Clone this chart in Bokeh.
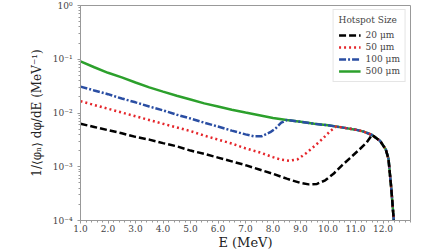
from bokeh.plotting import figure
from bokeh.models import (FixedTicker, CustomJSTickFormatter, PrintfTickFormatter,
                          Legend, LegendItem)
from bokeh.embed import file_html
from bokeh.resources import INLINE

# ---- data ----
tail_E = [8.5, 9.0, 9.5, 10.0, 10.5, 11.0, 11.3, 11.6, 11.9, 12.1, 12.2, 12.3, 12.38, 12.44]
tail_y = [0.0074, 0.0069, 0.0063, 0.0059, 0.0054, 0.0049, 0.0045, 0.0039, 0.0030, 0.0021,
          0.0014, 0.0004, 0.00012, 0.00004]

E_500 = [1.0, 1.5, 2.0, 2.5, 3.0, 3.5, 4.0, 4.5, 5.0, 5.5, 6.0, 6.5, 7.0, 7.5, 8.0]
y_500 = [0.091, 0.071, 0.056, 0.046, 0.037, 0.030, 0.025, 0.021, 0.0178, 0.0151, 0.0132,
         0.0115, 0.0102, 0.0091, 0.0081]

E_100 = [1.0, 1.5, 2.0, 2.5, 3.0, 3.5, 4.0, 4.5, 5.0, 5.5, 6.0, 6.5, 7.0, 7.3, 7.6, 7.9, 8.1, 8.3]
y_100 = [0.031, 0.0263, 0.0224, 0.0186, 0.0158, 0.0132, 0.0112, 0.0093, 0.0079, 0.0066,
         0.0056, 0.0047, 0.0040, 0.0037, 0.0037, 0.0044, 0.0052, 0.0066]

E_50 = [1.0, 1.5, 2.0, 2.5, 3.0, 3.5, 4.0, 4.5, 5.0, 5.5, 6.0, 6.5, 7.0, 7.5, 8.0, 8.3,
        8.6, 8.9, 9.2, 9.5, 9.8, 10.1, 10.3]
y_50 = [0.0166, 0.0141, 0.0120, 0.0102, 0.0087, 0.0074, 0.0063, 0.0054, 0.0046, 0.0038,
        0.0032, 0.0027, 0.0022, 0.00186, 0.00151, 0.00135, 0.00129, 0.00138, 0.00178,
        0.0024, 0.0033, 0.0047, 0.0056]

E_20 = [1.0, 1.5, 2.0, 2.5, 3.0, 3.5, 4.0, 4.5, 5.0, 5.5, 6.0, 6.5, 7.0, 7.5, 8.0, 8.5,
        9.0, 9.3, 9.6, 9.9, 10.2, 10.5, 10.8, 11.1, 11.4]
y_20 = [0.0063, 0.0055, 0.0048, 0.0042, 0.0036, 0.0032, 0.00275, 0.0024, 0.0020, 0.00174,
        0.00148, 0.00126, 0.00107, 0.00089, 0.00074, 0.0006, 0.0005, 0.00047, 0.00048,
        0.00056, 0.00074, 0.00105, 0.00145, 0.0020, 0.0028]

labels = ["20 \u03bcm", "50 \u03bcm", "100 \u03bcm", "500 \u03bcm"]
x_ticks = [1, 2, 3, 4, 5, 6, 7, 8, 9, 10, 11, 12]
y_ticks = [1e-4, 1e-3, 1e-2, 1e-1, 1.0]


def with_tail(E, y, start):
    tE = [e for e in tail_E if e > start]
    ty = [v for e, v in zip(tail_E, tail_y) if e > start]
    return E + tE, y + ty


FONT = "DejaVu Serif"

p = figure(width=448, height=252, x_range=(1, 13), y_range=(1e-4, 1),
           y_axis_type="log", output_backend="svg", toolbar_location=None,
           min_border_left=80, min_border_right=38, min_border_top=5, min_border_bottom=20)

p.xgrid.visible = False
p.ygrid.visible = False
p.outline_line_color = "#999999"
p.background_fill_color = "white"

gx, gy = with_tail(E_500, y_500, E_500[-1])
r500 = p.line(gx, gy, line_color="#2ca02c", line_width=2.5)
bx, by = with_tail(E_100, y_100, E_100[-1])
r100 = p.line(bx, by, line_color="#2a4ea3", line_width=2.5, line_dash="7 2 2 2")
rx, ry = with_tail(E_50, y_50, E_50[-1])
r50 = p.line(rx, ry, line_color="#e5262b", line_width=2.5, line_dash="2 3")
kx, ky = with_tail(E_20, y_20, 11.5)
r20 = p.line(kx, ky, line_color="black", line_width=2.5, line_dash="7 3")

# axes
p.xaxis.ticker = FixedTicker(ticks=x_ticks,
                             minor_ticks=[1 + 0.2 * i for i in range(61)])
p.xaxis.formatter = PrintfTickFormatter(format="%.1f")
minor_y = [m * 10 ** d for d in range(-4, 0) for m in range(2, 10)]
p.yaxis.ticker = FixedTicker(ticks=y_ticks, minor_ticks=minor_y)
p.yaxis.formatter = CustomJSTickFormatter(code="""
const sup = {'-':'\u207b','0':'\u2070','1':'\u00b9','2':'\u00b2','3':'\u00b3','4':'\u2074'};
const e = Math.round(Math.log10(tick));
return '10' + String(e).split('').map(c => sup[c]).join('');
""")

for ax in (p.xaxis[0], p.yaxis[0]):
    ax.axis_line_color = "#999999"
    ax.major_tick_line_color = "#999999"
    ax.minor_tick_line_color = "#999999"
    ax.major_tick_out = 3
    ax.major_tick_in = 0
    ax.minor_tick_out = 2
    ax.minor_tick_in = 0
    ax.major_label_text_font = FONT
    ax.major_label_text_font_size = "9px"
    ax.major_label_text_color = "#444444"
    ax.axis_label_text_font = FONT
    ax.axis_label_text_font_style = "normal"
    ax.axis_label_text_color = "#222222"

p.xaxis.axis_label = "E (MeV)"
p.xaxis.axis_label_text_font_size = "13px"
p.xaxis.axis_label_standoff = 0
p.xaxis.major_label_standoff = 1
p.yaxis.axis_label = "1/\u27e8\u03c6\u2099\u27e9 d\u03c6/dE (MeV\u207b\u00b9)"
p.yaxis.axis_label_text_font_size = "12px"
p.yaxis.axis_label_standoff = 6

legend = Legend(items=[LegendItem(label=labels[0], renderers=[r20]),
                       LegendItem(label=labels[1], renderers=[r50]),
                       LegendItem(label=labels[2], renderers=[r100]),
                       LegendItem(label=labels[3], renderers=[r500])],
                title="Hotspot Size", location="top_right")
legend.margin = 4
legend.padding = 5
legend.spacing = 2
legend.label_text_font = FONT
legend.label_text_font_size = "9px"
legend.label_height = 10
legend.glyph_height = 10
legend.glyph_width = 22
legend.title_text_font = FONT
legend.title_text_font_size = "9px"
legend.title_text_font_style = "normal"
legend.border_line_color = "#cccccc"
legend.background_fill_alpha = 1.0
p.add_layout(legend)

open("out.html", "w").write(file_html(p, INLINE))
